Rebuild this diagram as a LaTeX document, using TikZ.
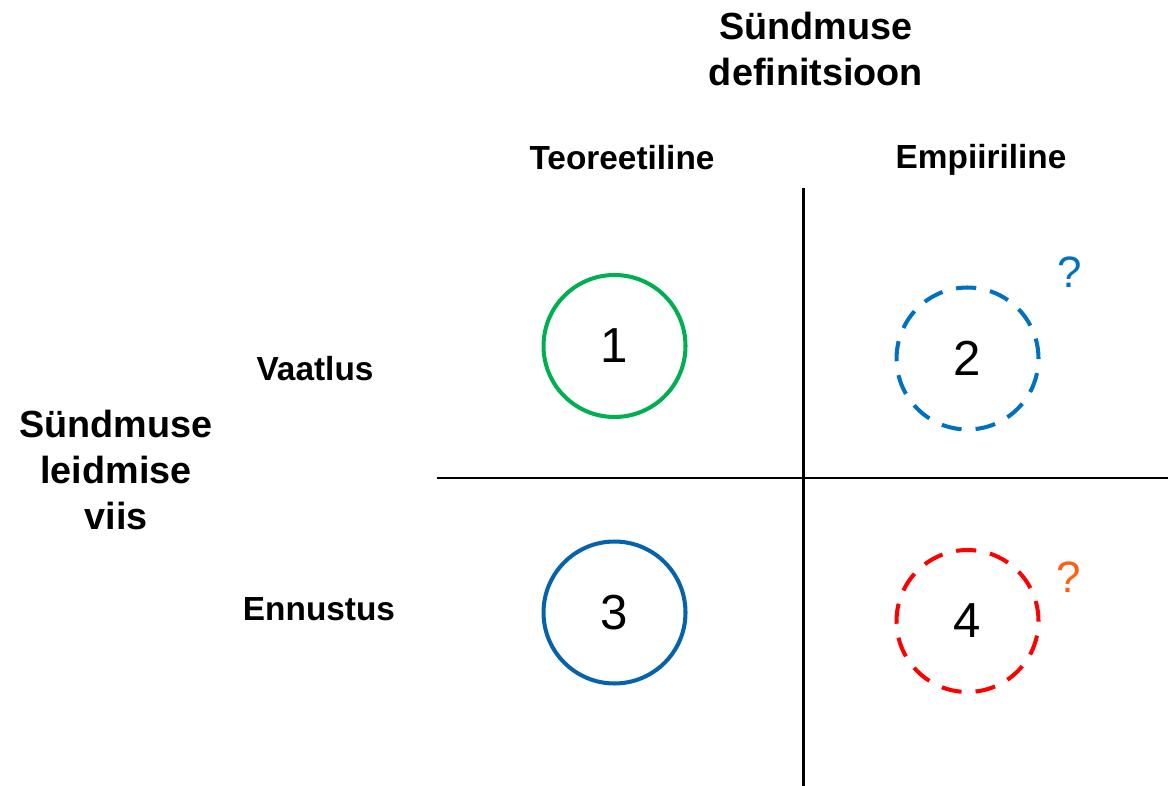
\documentclass[tikz,border=0pt]{standalone}
\usepackage{fontspec}
\setmainfont{Liberation Sans}
\usepackage{tikz}

\definecolor{ringgreen}{RGB}{0,176,80}
\definecolor{ringblue}{RGB}{5,99,173}
\definecolor{dashblue}{RGB}{0,112,192}
\definecolor{dashred}{RGB}{255,0,0}
\definecolor{askorange}{RGB}{255,96,16}

\tikzset{
  axislabel/.style={font=\fontsize{21.5}{24}\selectfont\bfseries, align=center, inner sep=0pt},
  sidelabel/.style={font=\fontsize{19}{22}\selectfont\bfseries, inner sep=0pt},
  ring/.style={circle, draw, line width=2.3pt, minimum size=2.84cm, inner sep=0pt,
    font=\fontsize{28}{30}\selectfont},
  dashring/.style={ring, dash pattern=on 11.5pt off 8pt},
  ask/.style={font=\fontsize{25}{28}\selectfont, inner sep=0pt}
}

\begin{document}
\begin{tikzpicture}[x=0.02cm, y=-0.02cm]
            \useasboundingbox (0,0) rectangle (1168,786);
            \def\midx{803}
            \def\midy{478}

            % axes
            \draw[line width=1.7pt] (\midx,188) -- (\midx,786);
            \draw[line width=1.7pt] (437,\midy) -- (1168,\midy);

            % headings
            \node[axislabel] (def) at (816,49) {Sündmuse\\[2pt]definitsioon};
            \node[axislabel] (way) at (116,470) {Sündmuse\\[2pt]leidmise\\[2pt]viis};
            \node[sidelabel] (teo) at (622,158) {Teoreetiline};
            \node[sidelabel] (emp) at (981,160) {Empiiriline};
            \node[sidelabel] (vaat) at (315,369) {Vaatlus};
            \node[sidelabel] (enn) at (319,609) {Ennustus};

            % the four cells
            \node[ring, draw=ringgreen] (c1) at (614.5,346) {1};
            \node[dashring, draw=dashblue] (c2) at (967.5,358.5) {2};
            \node[ring, draw=ringblue] (c3) at (614.5,612.5) {3};
            \node[dashring, draw=dashred] (c4) at (967.5,621) {4};

            \node[ask, text=dashblue] (q2) at (1070,272) {?};
            \node[ask, text=askorange] (q4) at (1069,577) {?};
        \end{tikzpicture}
\end{document}
